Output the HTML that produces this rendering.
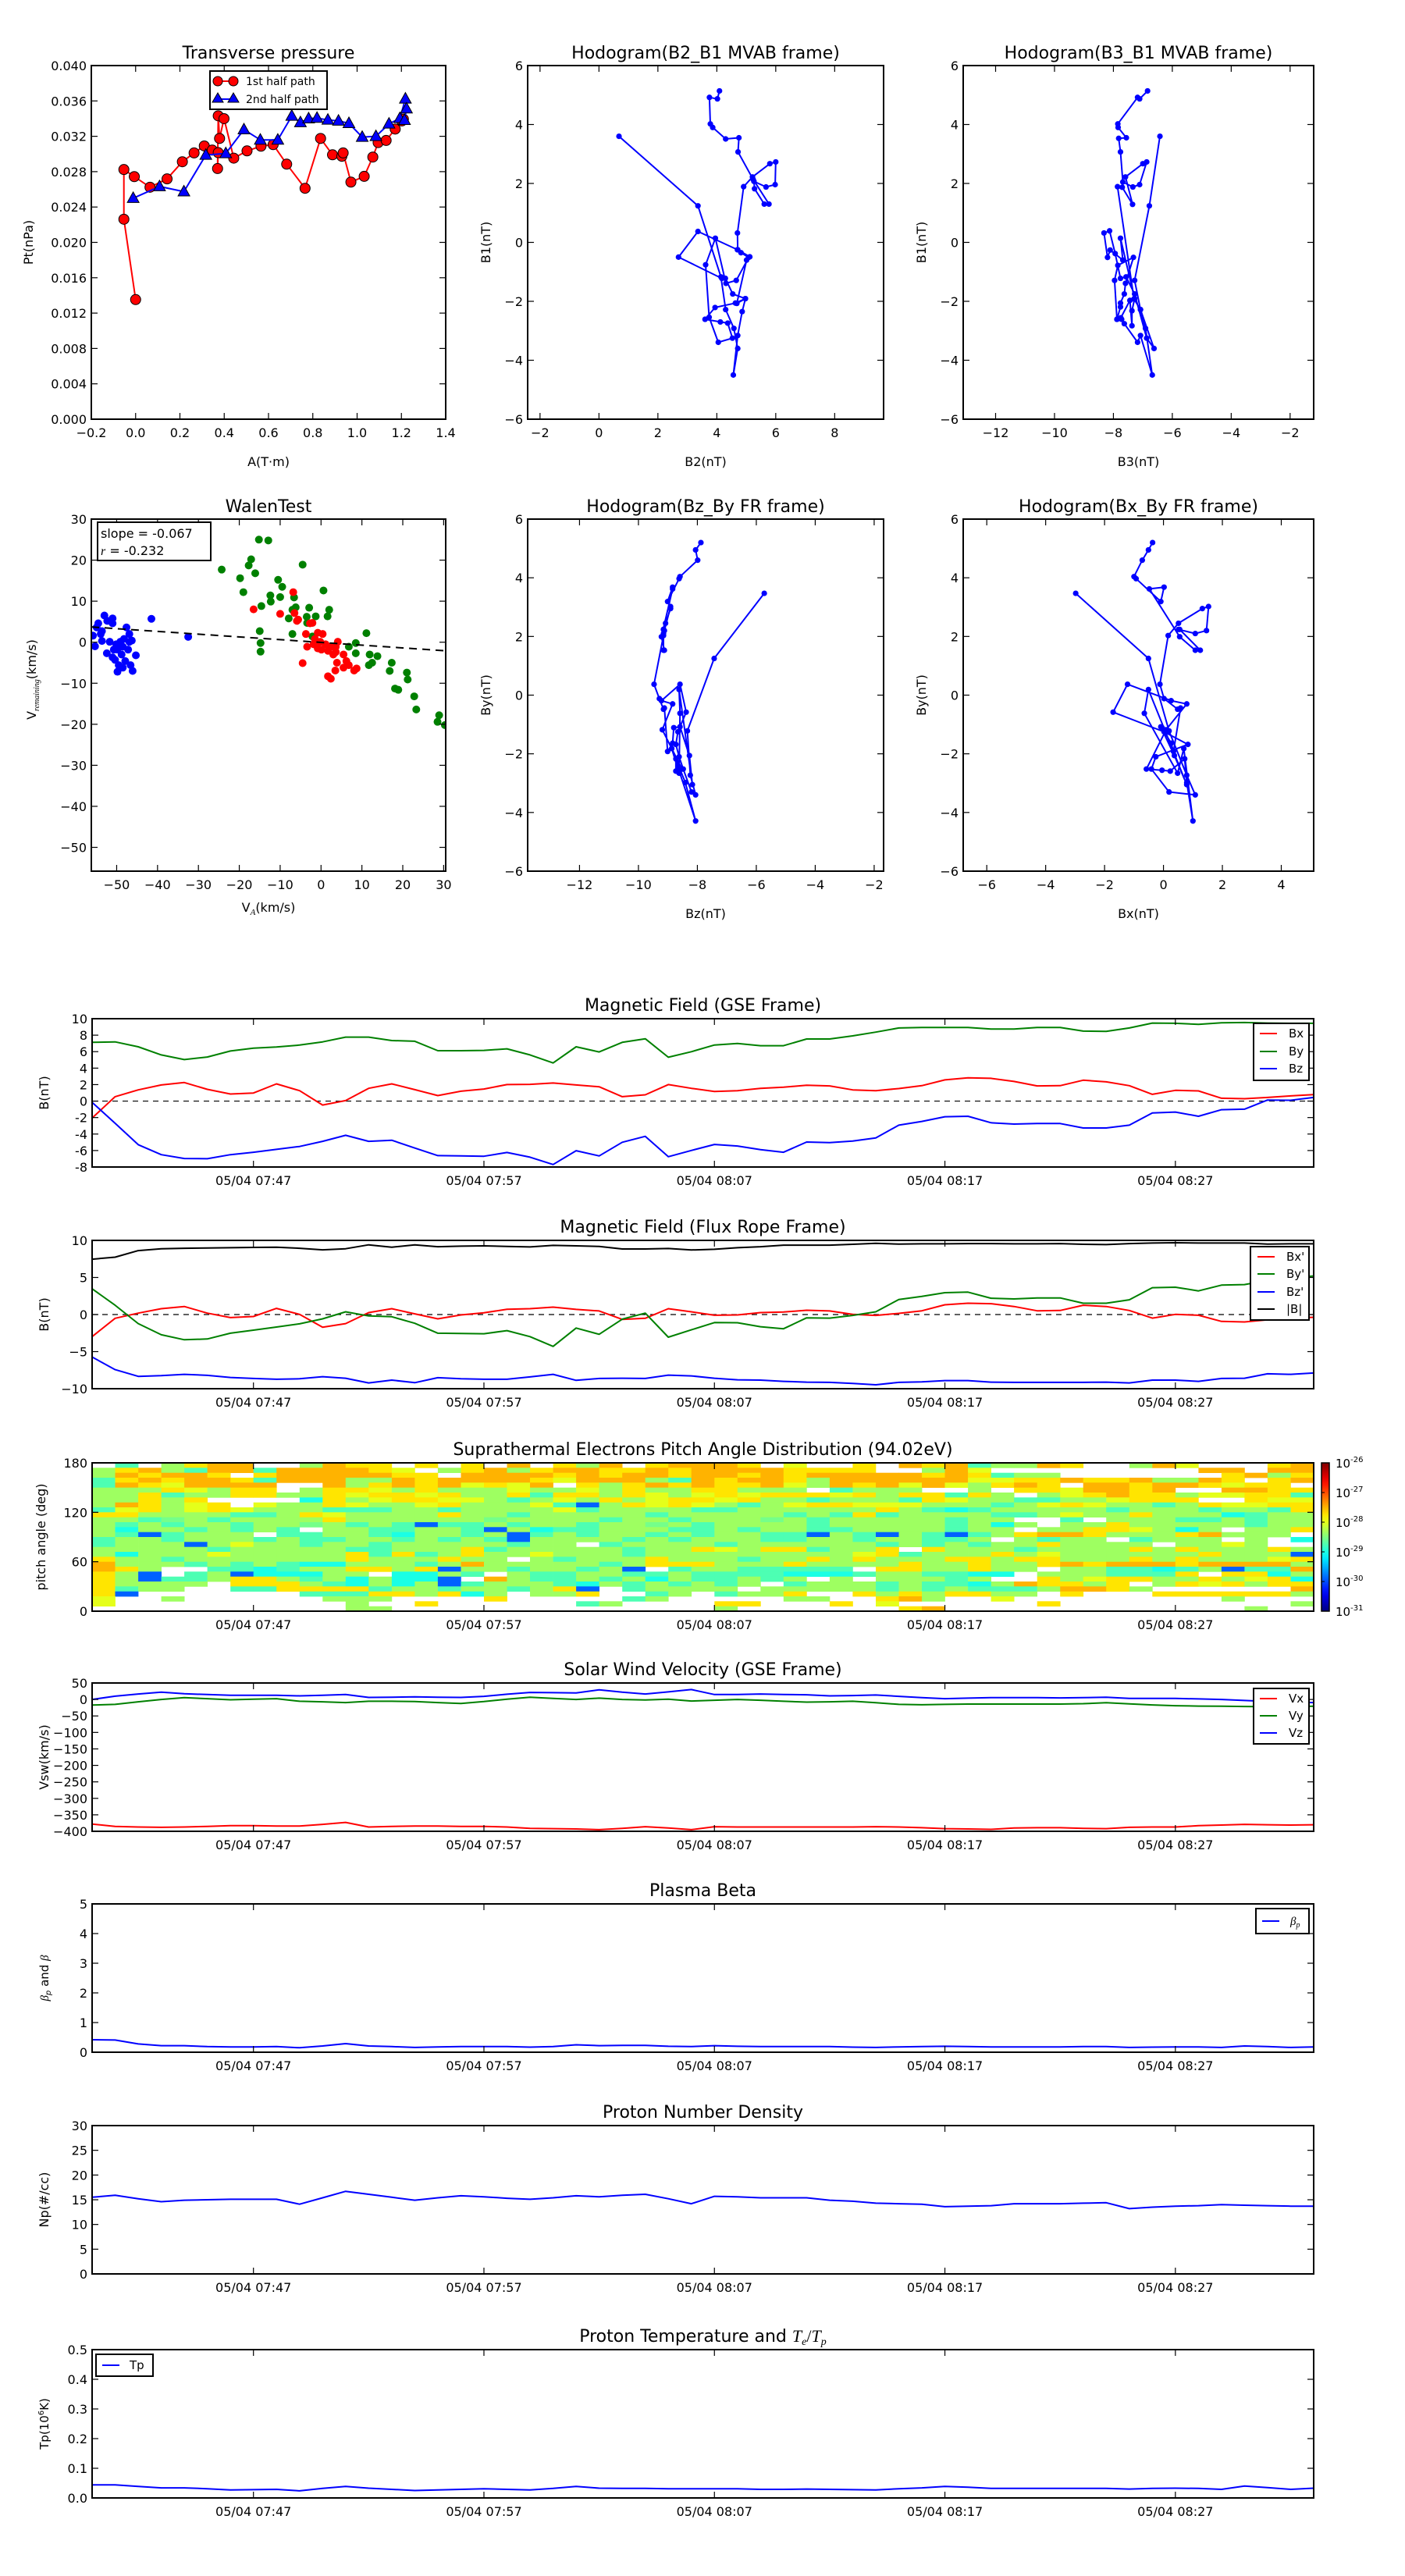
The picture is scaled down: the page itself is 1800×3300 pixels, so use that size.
<!DOCTYPE html>
<html>
<head>
<meta charset="utf-8">
<style>
html,body{margin:0;padding:0;background:#fff;}
svg{display:block;font-family:"DejaVu Sans","Liberation Sans",sans-serif;}
</style>
</head>
<body>
<svg id="fig" xmlns="http://www.w3.org/2000/svg" width="1800" height="3300" viewBox="0 0 1800 3300">
<rect x="0" y="0" width="1800" height="3300" fill="#fff"/>
</svg>
<script>
// ---------------- DATA ----------------
const bxGSE=[-2.06,0.54,1.36,1.96,2.25,1.43,0.86,0.98,2.09,1.27,-0.48,0.06,1.55,2.09,1.39,0.67,1.2,1.46,2.0,2.03,2.19,1.96,1.74,0.54,0.76,2.0,1.55,1.17,1.27,1.55,1.68,1.93,1.84,1.36,1.27,1.52,1.87,2.57,2.82,2.76,2.38,1.84,1.87,2.53,2.34,1.87,0.82,1.3,1.24,0.35,0.29,0.44,0.63,0.79];
const byGSE=[7.13,7.19,6.59,5.6,5.04,5.35,6.08,6.43,6.56,6.8,7.19,7.76,7.76,7.35,7.26,6.12,6.12,6.15,6.34,5.6,4.63,6.59,5.96,7.13,7.57,5.32,5.99,6.81,7.0,6.72,6.72,7.54,7.54,7.92,8.37,8.87,8.94,8.94,8.94,8.75,8.75,8.94,8.94,8.49,8.46,8.87,9.47,9.44,9.32,9.5,9.54,9.47,9.44,9.44];
const bzGSE=[-0.16,-2.69,-5.29,-6.5,-6.97,-7.0,-6.5,-6.21,-5.86,-5.51,-4.88,-4.15,-4.88,-4.75,-5.7,-6.62,-6.65,-6.69,-6.24,-6.81,-7.7,-6.02,-6.65,-5.0,-4.28,-6.75,-5.99,-5.26,-5.45,-5.89,-6.21,-4.97,-5.04,-4.85,-4.47,-2.92,-2.47,-1.9,-1.84,-2.63,-2.79,-2.72,-2.72,-3.26,-3.26,-2.92,-1.43,-1.33,-1.84,-1.05,-0.98,0.13,0.1,0.44];
const bxFR=[-2.98,-0.51,0.19,0.79,1.08,0.19,-0.41,-0.26,0.83,0.02,-1.71,-1.22,0.26,0.79,0.09,-0.58,-0.05,0.23,0.72,0.79,1.0,0.69,0.48,-0.65,-0.51,0.79,0.37,-0.09,-0.05,0.26,0.34,0.58,0.48,0.02,-0.12,0.16,0.51,1.32,1.53,1.46,1.08,0.51,0.55,1.25,1.08,0.55,-0.48,0.02,-0.09,-0.93,-1.0,-0.72,-0.51,-0.37];
const byFR=[3.47,1.25,-1.22,-2.73,-3.4,-3.3,-2.52,-2.1,-1.68,-1.25,-0.58,0.37,-0.19,-0.3,-1.18,-2.52,-2.56,-2.59,-2.17,-2.98,-4.29,-1.82,-2.66,-0.62,0.19,-3.05,-2.06,-1.08,-1.11,-1.64,-1.92,-0.44,-0.48,-0.12,0.37,2.03,2.45,2.95,3.02,2.2,2.1,2.24,2.24,1.53,1.53,1.99,3.62,3.68,3.19,3.97,4.04,4.6,4.95,5.2];
const bzFR=[-5.73,-7.43,-8.34,-8.24,-8.06,-8.2,-8.48,-8.62,-8.73,-8.66,-8.38,-8.59,-9.22,-8.84,-9.19,-8.52,-8.66,-8.73,-8.73,-8.41,-8.06,-8.87,-8.62,-8.59,-8.62,-8.17,-8.27,-8.59,-8.8,-8.84,-9.01,-9.12,-9.15,-9.29,-9.47,-9.15,-9.08,-8.91,-8.91,-9.12,-9.15,-9.15,-9.15,-9.15,-9.12,-9.22,-8.84,-8.84,-9.01,-8.62,-8.59,-7.99,-8.06,-7.88];
const btFR=[7.46,7.74,8.62,8.87,8.94,8.98,9.01,9.05,9.08,8.94,8.73,8.87,9.4,9.08,9.4,9.15,9.22,9.26,9.19,9.12,9.33,9.26,9.19,8.84,8.84,8.91,8.7,8.8,9.01,9.15,9.36,9.36,9.36,9.47,9.61,9.5,9.54,9.54,9.57,9.57,9.54,9.54,9.57,9.47,9.43,9.57,9.64,9.68,9.64,9.64,9.64,9.5,9.54,9.54];
const vxSW=[-378,-385,-387,-388,-387,-385,-383,-383,-384,-384,-379,-373,-387,-385,-384,-384,-385,-385,-387,-391,-392,-393,-395,-391,-386,-390,-395,-386,-387,-387,-387,-387,-387,-387,-386,-387,-389,-392,-393,-394,-390,-389,-389,-391,-392,-388,-387,-387,-383,-381,-379,-380,-381,-380];
const vySW=[-17,-15,-7,0,5.5,2.4,-1,1,2.4,-5.5,-7,-9.5,-5.5,-5.5,-6.3,-9.5,-12,-6.3,1,7,3,0,4,0,-1.6,1,-4.8,-2.4,0,-2.4,-5.5,-8,-7,-5.5,-10,-15,-16,-15,-14,-14,-14,-14,-14,-12.7,-10,-13.5,-16.6,-19,-20,-20.6,-21.4,-22,-22,-20.6];
const vzSW=[0,10,16.6,22,17.4,15,12.7,12.7,12.7,11,12.7,15,6.3,7,8,7,6.3,9.5,15.8,21.4,20.6,19.8,29.3,22,16.6,23,30,15,15,16.6,15,14.3,11,11.9,13.5,9.5,5.5,2.4,4,5.5,5.5,5.5,4.8,5.5,7,3,3,3,1.6,0,-3,-6,-8,-9.5];
const betaP=[0.42,0.41,0.28,0.22,0.22,0.19,0.18,0.18,0.19,0.15,0.21,0.29,0.21,0.19,0.16,0.18,0.19,0.19,0.19,0.17,0.19,0.25,0.22,0.23,0.23,0.2,0.19,0.22,0.2,0.19,0.19,0.19,0.19,0.17,0.16,0.18,0.19,0.2,0.19,0.18,0.18,0.18,0.18,0.19,0.19,0.16,0.17,0.18,0.18,0.16,0.21,0.19,0.16,0.18];
const densNp=[15.5,15.9,15.2,14.6,14.9,15.0,15.1,15.1,15.1,14.1,15.4,16.7,16.1,15.5,14.9,15.4,15.8,15.6,15.3,15.1,15.4,15.8,15.6,15.9,16.1,15.2,14.2,15.7,15.6,15.4,15.4,15.4,14.9,14.7,14.3,14.2,14.1,13.6,13.7,13.8,14.2,14.2,14.2,14.3,14.4,13.2,13.5,13.7,13.8,14.0,13.9,13.8,13.7,13.7];
const tempTp=[0.044,0.044,0.039,0.034,0.034,0.031,0.027,0.028,0.029,0.024,0.032,0.039,0.033,0.029,0.025,0.027,0.029,0.031,0.029,0.027,0.032,0.039,0.033,0.032,0.032,0.031,0.031,0.031,0.031,0.029,0.029,0.030,0.029,0.028,0.027,0.031,0.034,0.039,0.036,0.032,0.032,0.032,0.032,0.032,0.032,0.030,0.032,0.033,0.032,0.029,0.040,0.035,0.029,0.033];
const timeTickMinutes=[7,17,27,37,47];
const timeTickLabels=["05/04 07:47","05/04 07:57","05/04 08:07","05/04 08:17","05/04 08:27"];

// Transverse pressure
const ptA1=[0.0,-0.053,-0.053,-0.006,0.065,0.142,0.211,0.264,0.310,0.346,0.373,0.370,0.373,0.379,0.399,0.443,0.503,0.566,0.621,0.682,0.765,0.835,0.889,0.931,0.937,0.972,1.032,1.071,1.095,1.131,1.172,1.202,1.209];
const ptP1=[0.01353,0.02262,0.02824,0.02744,0.02624,0.02718,0.02912,0.03012,0.03091,0.03044,0.03015,0.02835,0.03432,0.03176,0.0340,0.02953,0.03035,0.03088,0.03106,0.02885,0.02612,0.03176,0.02991,0.02974,0.03012,0.02682,0.02747,0.02965,0.03129,0.03153,0.03282,0.03374,0.03394];
const ptA2=[-0.011,0.108,0.218,0.317,0.407,0.489,0.563,0.642,0.705,0.744,0.781,0.819,0.868,0.916,0.963,1.023,1.085,1.144,1.193,1.218,1.223,1.214];
const ptP2=[0.0250,0.02632,0.02574,0.02988,0.03006,0.03276,0.03159,0.03159,0.03429,0.03356,0.0340,0.03406,0.03385,0.03374,0.03347,0.03191,0.0320,0.03341,0.03403,0.03624,0.03512,0.03382];

// MVAB hodograms
const hB2=[0.68,3.36,4.14,4.30,4.58,4.71,4.56,4.71,4.86,4.97,4.63,3.94,3.60,4.12,4.37,4.53,4.05,3.74,3.62,3.95,4.31,4.66,5.08,4.82,4.70,3.36,2.70,4.17,4.29,4.54,4.97,4.68,5.01,5.12,4.71,4.70,4.91,5.21,5.80,6.00,5.98,5.67,5.26,5.28,5.61,5.77,5.23,4.72,4.75,4.30,3.86,3.78,3.75,4.02,4.09];
const hB1a=[3.60,1.24,-1.17,-2.28,-2.92,-3.60,-4.50,-3.16,-2.35,-1.91,-2.06,-2.21,-2.61,-2.70,-2.74,-3.25,-3.39,-2.54,-0.76,0.14,-1.39,-1.29,-0.51,-0.35,-0.25,0.37,-0.50,-1.22,-1.22,-1.75,-1.91,-2.07,-0.60,-0.49,-0.25,0.32,1.89,2.22,2.67,2.73,1.96,1.88,2.07,1.82,1.30,1.30,2.14,3.07,3.55,3.51,3.90,4.02,4.92,4.87,5.14];
const hB3=[-6.42,-6.78,-7.28,-7.08,-6.91,-6.68,-7.08,-7.18,-7.63,-7.72,-7.88,-7.76,-7.76,-7.63,-7.59,-7.32,-7.85,-7.96,-7.88,-7.75,-7.44,-7.37,-7.37,-7.28,-7.76,-7.68,-8.11,-8.20,-8.32,-8.13,-7.94,-7.76,-7.57,-7.28,-6.87,-6.62,-7.08,-7.30,-7.86,-7.70,-7.35,-7.59,-7.00,-6.87,-7.11,-7.34,-7.68,-7.76,-7.82,-7.56,-7.84,-7.85,-7.18,-7.11,-6.84];
const hB1b=[3.60,1.24,-1.29,-2.28,-2.92,-4.50,-3.16,-3.39,-2.76,-2.61,-2.61,-2.19,-2.06,-1.75,-1.39,-0.51,-0.78,-1.29,-2.61,-2.56,-1.97,-2.83,-2.32,-1.91,0.14,-0.60,-0.26,-0.51,0.32,0.39,-0.38,-1.22,-1.17,-1.75,-3.25,-3.60,-2.28,-1.92,1.89,1.87,1.29,2.22,2.67,2.73,1.96,1.88,2.05,3.07,3.53,3.55,3.90,4.02,4.92,4.87,5.14];

// Walen test
const walBlueVA=[-55.8,-55.3,-54.5,-53.6,-53.0,-52.3,-51.0,-51.0,-53.6,-52.4,-51.7,-51.0,-50.7,-50.1,-49.8,-49.5,-48.8,-48.5,-47.9,-47.6,-47.2,-46.9,-46.6,-46.3,-46.1,-45.3,-49.1,-48.2,-46.9,-41.5,-32.5,-54.9,-53.9,-49.8,-50.4,-48.5];
const walBlueV=[1.6,-1.0,4.6,0.3,6.5,5.2,5.8,4.6,2.7,-2.7,0.1,-3.7,-1.8,-0.5,-7.2,-5.6,-3.0,-1.1,-4.6,3.6,-1.8,2.0,-5.6,0.4,-7.0,-3.2,0.1,0.8,0.1,5.7,1.3,3.6,2.0,-1.8,-4.3,-6.2];
const walGreenVA=[-24.3,-19.8,-19.0,-17.7,-17.1,-16.1,-15.2,-12.9,-14.6,-15.0,-14.8,-14.8,-12.4,-12.3,-10.5,-10.0,-9.5,-7.9,-7.0,-7.0,-6.6,-6.2,-4.5,-3.5,-3.4,-2.9,-2.1,-1.3,0.6,1.6,2.0,6.8,8.5,8.5,11.1,11.7,11.9,12.5,13.8,16.8,17.3,18.1,18.9,21.0,21.2,22.8,23.3,28.5,28.9,30.3];
const walGreenV=[17.7,15.6,12.2,18.7,20.2,16.8,25.0,24.8,8.8,2.7,-0.2,-2.3,11.4,9.9,15.2,11.0,13.5,5.8,2.0,7.9,10.9,8.5,18.9,6.2,4.7,8.4,1.4,6.3,12.6,6.3,7.9,-1.1,-0.2,-2.7,2.2,-5.6,-3.0,-5.0,-3.4,-7.0,-5.0,-11.3,-11.6,-7.4,-9.1,-13.2,-16.4,-19.4,-17.8,-20.2];
const walRedVA=[-16.5,-6.8,-10.0,-6.5,-5.6,-5.9,-2.7,-2.1,-3.7,-3.4,-4.5,-1.5,-0.8,-0.2,0.4,-0.8,1.1,1.7,2.4,3.0,3.6,4.1,3.9,5.5,6.2,6.8,3.5,5.5,8.1,8.7,1.7,2.4,-1.8,0.1,3.6];
const walRedV=[8.0,12.2,6.9,7.1,5.5,5.2,4.6,4.7,2.0,-1.1,-5.1,0.8,2.3,0.1,2.0,-1.5,-0.5,-2.1,-1.1,-3.0,-2.4,0.1,-5.0,-3.0,-4.6,-5.6,-6.9,-6.2,-6.9,-6.4,-8.3,-8.9,-0.5,-1.8,-1.1];
const walenSlope=-0.067;
const walenIntercept=-0.05;

// Pitch angle distribution (rows from 180 deg down to 0 deg); codes map to log10 flux
const padLevels={B:-29.9,C:-29.0,M:-28.75,L:-28.55,G:-28.35,Y:-28.0,Z:-27.75,O:-27.5};
const padRows=[
".M.GZOO..GOZZ.Z.Z.O.ZGO.ZOOOZ.Y..Z.OZOMGGOZ..GOY...ZO.",
"GZOGMOOMOOOOZY.GZOGZOOZZOZOOOOZZZZ..GOY.........OO.OOOY",
"GOZOOZ.ZOOOOOZZ.OOOOZOZOOZOOZOZOOOOOZOZMGG.......ZOGZOZ",
"MZOZOOZMOOOGGOZOOOOZYOOOGMOZOOZGOOOOOOYYZZOZZOGGOZ.ZOYC",
"MOZYOOOO..OGZOZOYZYO.ZGZOZOZZOYGOZOYOYGZOZ.OOZOOZYZZ.ZO",
"GGGZYGZZ.GZZYGZGGGYGGYGZGGZZGGG.MGGG..G.ZZYOOZO..OOZZZC",
"GGZMGGZZGGZYZZYZGGZMZZGZYGYZYZZZYZGZZMZG.GYZOZZGYYZZMZG",
"GGZGZ....CZGYZZYYGMGYGZGYZZYZGGMGGGMZYGGMMGGYZZZ..ZYYYZ",
"GOZGYZ.YGGZYGGYZGGGYMBGZYZYGMGYZZYYYGGGMGYZYGGMGZYYZZGG",
"MYZGYZYGGGMMMGGMGGGGYMGGGGMMGGGGGGZGMCMGGGGGMGGGMGGMZYG",
"ZZGGGGMMGZYGGGGZGGMGGGGGMGGGGGMGMZMGGGGMMGYGGZGGGCMGGZG",
"GGMLGMGGGGZGGGGGGLGGGGMGGMGGGLGMGGGGGMGG..M.GGGMMGMGGGG",
"GMGMGGMGGLGMGMBMMGMGGMGGLGMGGGGMGGGGGMGCG.GGZGGGGGMGGGG",
"GCGGMGMGM.GGMMGGMBGCMMGGGMMGMGGMMGGGGMGG.GGZZYGCG.GGZ..",
"GMBMGGG.MMGGMCGGMGBMGMGGMGMGGMMBGMBGMBMGZOOZGGGZOGGG...",
"MGGMGGGMGMMGGMGMGMBGGGGMGMGGGMMGGMGGMMG.GMGG.MGGG.G.CGG",
"MGGGBGYGGMGGMGGGGGMGG.MGGGGMGGGGGGMGMGMGGZGGGG.GGYG..ZG",
"GGGGGMGGGGGMMGGGZMGGGGGMGGZYGZZMGGZ.ZGGGMGGGGZGZGGGZGGG",
"GCGGGYGGGGGZMZMGZGGYGGGMGGGGGGGGGYZMGGGZGYGGGGGGZGGGBGM",
"ZGGMGGGGGGGZGGGZGG.GMGGGZGGGMGGZGZGGGZZGZZGGGZGZGGGYZZZ",
"OGGGMGMGMCCGGGMGOGGGGGMGZZZGGGZGGGGZGGZGGZOZOOOZOOOOGCZ",
"OZG..MMCMGGZZGZBGGMGGMGB.MGGMMMMM.ZZGGZGG.GGMMCMGBMMOOZ",
"ZGB.MGBCCCGG.CCGM.GMMGGMMGMMMMCCCMGGMMCC.GGGMMMZ.ZZCGZY",
"ZGBMMGZZGMGCGCCB.OGMMGMGCGMMGMG.G.GGGMG..ZGYZZGGZGYZCGO",
"ZGGGG.ZZZGMCGCGBMGGGMCGMGMGMG.MGGGMGMMCGOZZGZ.GZYZGZZOO",
"ZMGG..MMZZZZMGGMGGMGZB.MGGGG.GGGGGMGMGMMMGOOZG......OOO",
"ZB.......MMMZZGZCG.GGZ..MG.MGGZ..ZGZGZZGG.Z...ZZZZZZGZG",
"Y..G......GGG....Z.....MG.....GG..ZOG..Y.........G....Z",
"Y..........G..Z......MG....ZZ...Z.Y......Z..........G.",
"...........GG..............G.......ZO.............G...."
];
const cbarTickExps=[-26,-27,-28,-29,-30,-31];

// ---------------- HELPERS ----------------
const svg=document.getElementById('fig');
const NS='http://www.w3.org/2000/svg';
function mk(tag,attrs,parent){const e=document.createElementNS(NS,tag);for(const k in attrs)e.setAttribute(k,attrs[k]);(parent||svg).appendChild(e);return e;}
function tx(str,attrs,parent){const e=mk('text',attrs,parent);e.textContent=str;return e;}
function lin(d0,d1,p0,p1){return v=>p0+(v-d0)/(d1-d0)*(p1-p0);}
function fmtNum(v,dec){const s=Math.abs(v).toFixed(dec);return (v<0?'\u2212':'')+s;}
function jet(v){const c=x=>Math.max(0,Math.min(1,x));const r=c(1.5-Math.abs(4*v-3)),g=c(1.5-Math.abs(4*v-2)),b=c(1.5-Math.abs(4*v-1));return 'rgb('+Math.round(r*255)+','+Math.round(g*255)+','+Math.round(b*255)+')';}

function axesBox(name){
  const g=mk('g',{});
  
  
  return g;
}
function frame(g,x0,y0,x1,y1){
  const r=mk('rect',{x:x0,y:y0,width:x1-x0,height:y1-y0,fill:'none',stroke:'#000','stroke-width':2},g);
  
  
}
function xTicks(g,vals,labels,sx,y0,y1,fs){
  vals.forEach((v,i)=>{
    const x=sx(v);
    mk('line',{x1:x,x2:x,y1:y1,y2:y1-8,stroke:'#000','stroke-width':1.2},g);
    mk('line',{x1:x,x2:x,y1:y0,y2:y0+8,stroke:'#000','stroke-width':1.2},g);
    const t=tx(labels[i],{x:x,y:y1+23,'font-size':fs||16,'text-anchor':'middle'},g);
    
    
  });
}
function yTicks(g,vals,labels,sy,x0,x1,fs){
  vals.forEach((v,i)=>{
    const y=sy(v);
    mk('line',{x1:x0,x2:x0+8,y1:y,y2:y,stroke:'#000','stroke-width':1.2},g);
    mk('line',{x1:x1,x2:x1-8,y1:y,y2:y,stroke:'#000','stroke-width':1.2},g);
    const t=tx(labels[i],{x:x0-6,y:y+6,'font-size':fs||16,'text-anchor':'end'},g);
    
    
  });
}
function title(g,str,cx,y){
  const t=tx(str,{x:cx,y:y,'font-size':22,'text-anchor':'middle'},g);
  
  
  return t;
}
function xlabel(g,str,cx,y){
  const t=tx(str,{x:cx,y:y,'font-size':16,'text-anchor':'middle'},g);
  
  
  return t;
}
function ylabel(g,str,x,cy){
  const t=tx(str,{x:x,y:cy,'font-size':16,'text-anchor':'middle',transform:'rotate(-90 '+x+' '+cy+')'},g);
  
  
  return t;
}
function polyline(g,xs,ys,sx,sy,color,w,clip){
  const pts=xs.map((x,i)=>sx(x).toFixed(1)+','+sy(ys[i]).toFixed(1)).join(' ');
  const attrs={points:pts,fill:'none',stroke:color,'stroke-width':w,'stroke-linejoin':'round'};
  if(clip)attrs['clip-path']='url(#'+clip+')';
  return mk('polyline',attrs,g);
}
function clipRect(id,x0,y0,x1,y1){
  let defs=document.getElementById('defs');
  if(!defs){defs=mk('defs',{id:'defs'});}
  const cp=mk('clipPath',{id:id},defs);
  mk('rect',{x:x0,y:y0,width:x1-x0,height:y1-y0},cp);
}
function range(a,b,s){const r=[];for(let v=a;v<=b+1e-9;v+=s)r.push(+v.toFixed(6));return r;}

// ---------------- TRANSVERSE PRESSURE ----------------
(function(){
  const x0=117,x1=571,y0=84,y1=537;
  const g=axesBox('transverse-pressure-chart');
  const sx=lin(-0.2,1.4,x0,x1), sy=lin(0,0.04,y1,y0);
  clipRect('cp1',x0,y0,x1,y1);
  title(g,'Transverse pressure',(x0+x1)/2,75);
  const l1=polyline(g,ptA1,ptP1,sx,sy,'#ff0000',2,'cp1');
  
  
  ptA1.forEach((a,i)=>{
    const c=mk('circle',{cx:sx(a),cy:sy(ptP1[i]),r:6.5,fill:'#ff0000',stroke:'#000','stroke-width':1},g);
    
    
  });
  const l2=polyline(g,ptA2,ptP2,sx,sy,'#0000ff',2,'cp1');
  
  
  ptA2.forEach((a,i)=>{
    const x=sx(a),y=sy(ptP2[i]);
    const p=mk('polygon',{points:(x)+','+(y-8)+' '+(x-7.5)+','+(y+5.5)+' '+(x+7.5)+','+(y+5.5),fill:'#0000ff',stroke:'#000','stroke-width':1},g);
    
    
  });
  frame(g,x0,y0,x1,y1);
  const xt=range(-0.2,1.4,0.2);
  xTicks(g,xt,xt.map(v=>fmtNum(v,1)),sx,y0,y1);
  const yt=range(0,0.04,0.004);
  yTicks(g,yt,yt.map(v=>fmtNum(v,3)),sy,x0,x1);
  xlabel(g,'A(T\u00b7m)',(x0+x1)/2,597);
  ylabel(g,'Pt(nPa)',42,(y0+y1)/2);
  const lg=mk('g',{},g);
  
  
  mk('rect',{x:269,y:91,width:150,height:49,fill:'#fff',stroke:'#000','stroke-width':2},lg);
  mk('line',{x1:279,x2:299,y1:104,y2:104,stroke:'#ff0000','stroke-width':2},lg);
  mk('circle',{cx:279,cy:104,r:6,fill:'#ff0000',stroke:'#000','stroke-width':1},lg);
  mk('circle',{cx:299,cy:104,r:6,fill:'#ff0000',stroke:'#000','stroke-width':1},lg);
  const e1=tx('1st half path',{x:315,y:109,'font-size':14},lg);
  
  
  mk('line',{x1:279,x2:299,y1:127,y2:127,stroke:'#0000ff','stroke-width':2},lg);
  mk('polygon',{points:'279,119 272,131 286,131',fill:'#0000ff',stroke:'#000','stroke-width':1},lg);
  mk('polygon',{points:'299,119 292,131 306,131',fill:'#0000ff',stroke:'#000','stroke-width':1},lg);
  const e2=tx('2nd half path',{x:315,y:132,'font-size':14},lg);
  
  
})();

// ---------------- HODOGRAMS ----------------
function hodogram(name,x0,y0,x1,y1,xlim,xs,ys,xt,ttl,xl,yl,ylx,cid){
  const g=axesBox(name);
  const sx=lin(xlim[0],xlim[1],x0,x1), sy=lin(-6,6,y1,y0);
  clipRect(cid,x0,y0,x1,y1);
  title(g,ttl,(x0+x1)/2,y0-9);
  const l=polyline(g,xs,ys,sx,sy,'#0000ff',2,cid);
  
  
  xs.forEach((x,i)=>{
    const c=mk('circle',{cx:sx(x),cy:sy(ys[i]),r:3.6,fill:'#0000ff'},g);
    
    
  });
  frame(g,x0,y0,x1,y1);
  xTicks(g,xt,xt.map(v=>fmtNum(v,0)),sx,y0,y1);
  const yt=range(-6,6,2);
  yTicks(g,yt,yt.map(v=>fmtNum(v,0)),sy,x0,x1);
  xlabel(g,xl,(x0+x1)/2,y1+60);
  ylabel(g,yl,ylx,(y0+y1)/2);
}
hodogram('hodogram-b2-b1-mvab',676,84,1132,537,[-2.42,9.66],hB2,hB1a,range(-2,8,2),'Hodogram(B2_B1 MVAB frame)','B2(nT)','B1(nT)',628,'cp2');
hodogram('hodogram-b3-b1-mvab',1234,84,1683,537,[-13.1,-1.2],hB3,hB1b,range(-12,-2,2),'Hodogram(B3_B1 MVAB frame)','B3(nT)','B1(nT)',1186,'cp3');
hodogram('hodogram-bz-by-fr',676,665,1132,1116,[-13.76,-1.68],bzFR,byFR,range(-12,-2,2),'Hodogram(Bz_By FR frame)','Bz(nT)','By(nT)',628,'cp5');
hodogram('hodogram-bx-by-fr',1234,665,1683,1116,[-6.8,5.1],bxFR,byFR,range(-6,4,2),'Hodogram(Bx_By FR frame)','Bx(nT)','By(nT)',1186,'cp6');

// ---------------- WALEN TEST ----------------
(function(){
  const x0=117,x1=571,y0=665,y1=1116;
  const g=axesBox('walen-test-chart');
  const sx=lin(-56.2,30.5,x0,x1), sy=lin(-55.8,30,y1,y0);
  clipRect('cp4',x0,y0,x1,y1);
  title(g,'WalenTest',(x0+x1)/2,656);
  const sets=[[walBlueVA,walBlueV,'#0000ff','walen-point-blue'],[walGreenVA,walGreenV,'#008000','walen-point-green'],[walRedVA,walRedV,'#ff0000','walen-point-red']];
  sets.forEach(s=>{
    s[0].forEach((a,i)=>{
      const c=mk('circle',{cx:sx(a),cy:sy(s[1][i]),r:5,fill:s[2],'clip-path':'url(#cp4)'},g);
      
      
    });
  });
  const fx=[-56.2,30.5];
  const fl=mk('line',{x1:sx(fx[0]),y1:sy(walenSlope*fx[0]+walenIntercept),x2:sx(fx[1]),y2:sy(walenSlope*fx[1]+walenIntercept),stroke:'#000','stroke-width':2,'stroke-dasharray':'10,7'},g);
  
  
  frame(g,x0,y0,x1,y1);
  const xt=range(-50,30,10);
  xTicks(g,xt,xt.map(v=>fmtNum(v,0)),sx,y0,y1);
  const yt=range(-50,30,10);
  yTicks(g,yt,yt.map(v=>fmtNum(v,0)),sy,x0,x1);
  const xlab=mk('text',{x:(x0+x1)/2,y:1168,'font-size':16,'text-anchor':'middle'},g);
  
  
  xlab.innerHTML='V<tspan font-size="11" dy="4" font-style="italic" font-family="Liberation Serif, serif">A</tspan><tspan dy="-4">(km/s)</tspan>';
  const yx=46,yc=(y0+y1)/2-20;
  const ylab=mk('text',{x:yx,y:yc,'font-size':16,'text-anchor':'middle',transform:'rotate(-90 '+yx+' '+yc+')'},g);
  
  
  ylab.innerHTML='V<tspan font-size="10" dy="4" font-style="italic" font-family="Liberation Serif, serif">remaining</tspan><tspan dy="-4">(km/s)</tspan>';
  const lb=mk('g',{},g);
  
  
  mk('rect',{x:125,y:669,width:145,height:49,fill:'#fff',stroke:'#000','stroke-width':2},lb);
  tx('slope = -0.067',{x:129,y:689,'font-size':16},lb);
  const rt=mk('text',{x:129,y:711,'font-size':16},lb);
  rt.innerHTML='<tspan font-style="italic" font-family="Liberation Serif, serif">r</tspan> = -0.232';
})();

// ---------------- TIME SERIES ----------------
const TX0=118,TX1=1683,TH=190;
const tsx=lin(0,53,TX0,TX1);
const tIdx=bxGSE.map((_,i)=>i);
function tsPanel(name,top,ylim,yt,ylabs,ttl,ylab,series,zero,cid){
  const g=axesBox(name);
  const y0=top,y1=top+TH;
  const sy=lin(ylim[0],ylim[1],y1,y0);
  clipRect(cid,TX0,y0,TX1,y1);
  if(ttl)title(g,ttl,(TX0+TX1)/2,y0-10);
  if(zero){
    const z=mk('line',{x1:TX0,x2:TX1,y1:sy(0),y2:sy(0),stroke:'#000','stroke-width':1.2,'stroke-dasharray':'7,6'},g);
    
    
  }
  series.forEach(s=>{
    const l=polyline(g,tIdx,s.v,tsx,sy,s.c,2,cid);
    
    
  });
  frame(g,TX0,y0,TX1,y1);
  xTicks(g,timeTickMinutes,timeTickLabels,tsx,y0,y1);
  yTicks(g,yt,ylabs,sy,TX0,TX1);
  if(ylab)ylabel(g,ylab,62,(y0+y1)/2);
  return {g:g,sy:sy};
}
function tsLegend(g,x,y,w,h,entries,rowYs,lineX,textX){
  const lg=mk('g',{},g);
  
  
  mk('rect',{x:x,y:y,width:w,height:h,fill:'#fff',stroke:'#000','stroke-width':2},lg);
  entries.forEach((e,i)=>{
    mk('line',{x1:lineX,x2:lineX+22,y1:rowYs[i],y2:rowYs[i],stroke:e[1],'stroke-width':2},lg);
    const t=tx(e[0],{x:textX,y:rowYs[i]+5,'font-size':15},lg);
    
    
    if(e[2])t.innerHTML=e[2];
  });
}

let p=tsPanel('magnetic-field-gse-chart',1305,[-8,10],range(-8,10,2),range(-8,10,2).map(v=>fmtNum(v,0).replace('\u2212','-')),'Magnetic Field (GSE Frame)','B(nT)',
  [{v:bxGSE,c:'#ff0000',n:'bx-line'},{v:byGSE,c:'#008000',n:'by-line'},{v:bzGSE,c:'#0000ff',n:'bz-line'}],true,'cpg');
tsLegend(p.g,1606,1311,71,73,[['Bx','#ff0000'],['By','#008000'],['Bz','#0000ff']],[1324,1347,1369],1614,1651);

p=tsPanel('magnetic-field-fr-chart',1589,[-10,10],range(-10,10,5),range(-10,10,5).map(v=>fmtNum(v,0)),'Magnetic Field (Flux Rope Frame)','B(nT)',
  [{v:bxFR,c:'#ff0000',n:'bx-prime-line'},{v:byFR,c:'#008000',n:'by-prime-line'},{v:bzFR,c:'#0000ff',n:'bz-prime-line'},{v:btFR,c:'#000000',n:'b-magnitude-line'}],true,'cpf');
tsLegend(p.g,1602,1597,75,94,[['Bx\'','#ff0000'],['By\'','#008000'],['Bz\'','#0000ff'],['|B|','#000000']],[1610,1632,1655,1677],1611,1648);

// PAD
(function(){
  const top=1874;
  const g=axesBox('pitch-angle-distribution-chart');
  const y0=top,y1=top+TH;
  const sy=lin(0,180,y1,y0);
  title(g,'Suprathermal Electrons Pitch Angle Distribution (94.02eV)',(TX0+TX1)/2,y0-10);
  const nR=padRows.length, nC=53;
  const dA=180/nR;
  const cells=mk('g',{},g);
  
  
  padRows.forEach((row,r)=>{
    for(let c=0;c<nC;c++){
      const ch=row[c]||'.';
      if(!(ch in padLevels))continue;
      const v=(padLevels[ch]+31)/5;
      const a1=180-r*dA, a0=a1-dA;
      const xa=tsx(c), xb=tsx(c+1);
      const rc=mk('rect',{x:xa.toFixed(1),y:sy(a1).toFixed(1),width:(xb-xa+0.4).toFixed(1),height:(sy(a0)-sy(a1)+0.4).toFixed(1),fill:jet(v)},cells);
      
      
    }
  });
  frame(g,TX0,y0,TX1,y1);
  xTicks(g,timeTickMinutes,timeTickLabels,tsx,y0,y1);
  yTicks(g,[0,60,120,180],['0','60','120','180'],sy,TX0,TX1);
  ylabel(g,'pitch angle (deg)',58,(y0+y1)/2);
  const cb=mk('g',{},g);
  
  
  const defs=document.getElementById('defs');
  const gr=mk('linearGradient',{id:'jetgrad',x1:0,y1:1,x2:0,y2:0},defs);
  for(let i=0;i<=20;i++){mk('stop',{offset:(i/20),'stop-color':jet(i/20)},gr);}
  mk('rect',{x:1693,y:y0,width:10,height:TH,fill:'url(#jetgrad)',stroke:'#000','stroke-width':1.5},cb);
  const sc=lin(-31,-26,y1,y0);
  cbarTickExps.forEach(e=>{
    const y=sc(e);
    mk('line',{x1:1693,x2:1697,y1:y,y2:y,stroke:'#000','stroke-width':1},cb);
    const t=mk('text',{x:1711,y:y+6,'font-size':15},cb);
    
    
    t.innerHTML='10<tspan dy="-7" font-size="10">'+e+'</tspan>';
  });
})();

const vt=range(-400,50,50);
p=tsPanel('solar-wind-velocity-chart',2156,[-400,50],vt,vt.map(v=>fmtNum(v,0)),'Solar Wind Velocity (GSE Frame)','Vsw(km/s)',
  [{v:vxSW,c:'#ff0000',n:'vx-line'},{v:vySW,c:'#008000',n:'vy-line'},{v:vzSW,c:'#0000ff',n:'vz-line'}],false,'cpv');
tsLegend(p.g,1606,2163,71,71,[['Vx','#ff0000'],['Vy','#008000'],['Vz','#0000ff']],[2176,2198,2220],1614,1651);

p=tsPanel('plasma-beta-chart',2439,[0,5],range(0,5,1),['0','1','2','3','4','5'],'Plasma Beta',null,
  [{v:betaP,c:'#0000ff',n:'beta-p-line'}],false,'cpb');
tsLegend(p.g,1609,2445,68,32,[['b','#0000ff','<tspan font-style="italic" font-family="Liberation Serif, serif">\u03b2</tspan><tspan font-size="10" dy="3" font-style="italic" font-family="Liberation Serif, serif">p</tspan>']],[2461],1617,1653);
(function(){
  const yx=62,yc=2439+TH/2;
  const t=mk('text',{x:yx,y:yc,'font-size':15,'text-anchor':'middle',transform:'rotate(-90 '+yx+' '+yc+')'},p.g);
  
  
  t.innerHTML='<tspan font-style="italic" font-family="Liberation Serif, serif">\u03b2</tspan><tspan font-size="10" dy="3" font-style="italic">p</tspan><tspan dy="-3"> and </tspan><tspan font-style="italic" font-family="Liberation Serif, serif">\u03b2</tspan>';
})();

p=tsPanel('proton-density-chart',2723,[0,30],range(0,30,5),['0','5','10','15','20','25','30'],'Proton Number Density','Np(#/cc)',
  [{v:densNp,c:'#0000ff',n:'density-line'}],false,'cpd');

p=tsPanel('proton-temperature-chart',3010,[0,0.5],range(0,0.5,0.1),['0.0','0.1','0.2','0.3','0.4','0.5'],null,null,
  [{v:tempTp,c:'#0000ff',n:'tp-line'}],false,'cpt');
(function(){
  const t=mk('text',{x:(TX0+TX1)/2,y:3000,'font-size':22,'text-anchor':'middle'},p.g);
  
  
  t.innerHTML='Proton Temperature and <tspan font-style="italic" font-family="Liberation Serif, serif">T</tspan><tspan font-size="14" dy="4" font-style="italic" font-family="Liberation Serif, serif">e</tspan><tspan dy="-4" font-family="Liberation Serif, serif">/</tspan><tspan font-style="italic" font-family="Liberation Serif, serif">T</tspan><tspan font-size="14" dy="4" font-style="italic" font-family="Liberation Serif, serif">p</tspan>';
  const yx=62,yc=3010+TH/2;
  const yl=mk('text',{x:yx,y:yc,'font-size':15,'text-anchor':'middle',transform:'rotate(-90 '+yx+' '+yc+')'},p.g);
  
  
  yl.innerHTML='Tp(10<tspan font-size="10" dy="-6">6</tspan><tspan dy="6">K)</tspan>';
})();
tsLegend(p.g,123,3016,73,28,[['Tp','#0000ff']],[3030],131,166);
</script>
</body>
</html>
